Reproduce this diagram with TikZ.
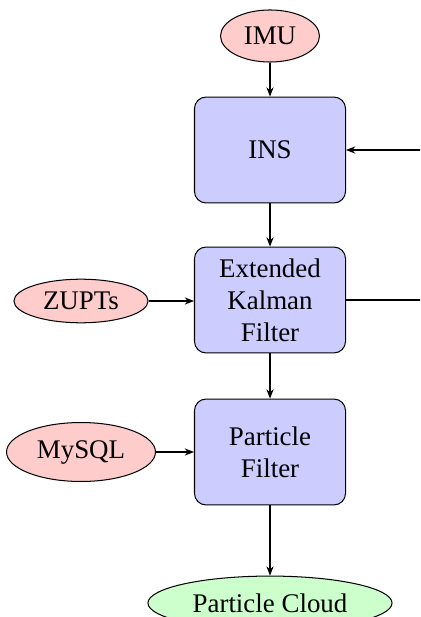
\documentclass[tikz,border=0pt]{standalone}
\usepackage{fontspec}
\setmainfont{Liberation Serif}
\usetikzlibrary{shapes.geometric,arrows.meta}
\begin{document}
\begin{tikzpicture}[x=0.39pt,y=-0.39pt,
  every node/.style={font=\fontsize{10.5}{12.5}\selectfont},
  proc/.style={draw, rounded corners=4.5pt, fill=blue!20, minimum width=58.9pt, minimum height=41.3pt, align=center, inner sep=0pt},
  src/.style={draw, ellipse, fill=red!20, inner sep=0pt},
  sink/.style={draw, ellipse, fill=green!20, inner sep=0pt},
  arr/.style={-{Stealth[length=3.6pt,width=2.8pt]}}]
\useasboundingbox (0,0) rectangle (420,617);
\clip (0,0) rectangle (420,617);
\node[src, minimum width=38.6pt, minimum height=20.3pt] (imu) at (270,36) {IMU};
\node[proc] (ins) at (270,150) {INS};
\node[proc] (ekf) at (270,300) {Extended\\Kalman\\Filter};
\node[src, minimum width=52.3pt, minimum height=17pt] (zupt) at (81,301) {ZUPTs};
\node[proc] (pf) at (270,452) {Particle\\Filter};
\node[src, minimum width=58.1pt, minimum height=23pt] (sql) at (81,452) {MySQL};
\node[sink, minimum width=95.2pt, minimum height=21pt] (cloud) at (270,603) {Particle Cloud};
\coordinate (r1) at (480,300);
\draw[arr] (imu) -- (ins);
\draw[arr] (ins) -- (ekf);
\draw[arr] (zupt.east) -- (zupt.east -| ekf.west);
\draw[arr] (ekf) -- (pf);
\draw[arr] (sql.east) -- (sql.east -| pf.west);
\draw[arr] (pf) -- (cloud);
\draw[arr] (ekf.east) -- (r1) |- (ins.east);
\end{tikzpicture}
\end{document}
